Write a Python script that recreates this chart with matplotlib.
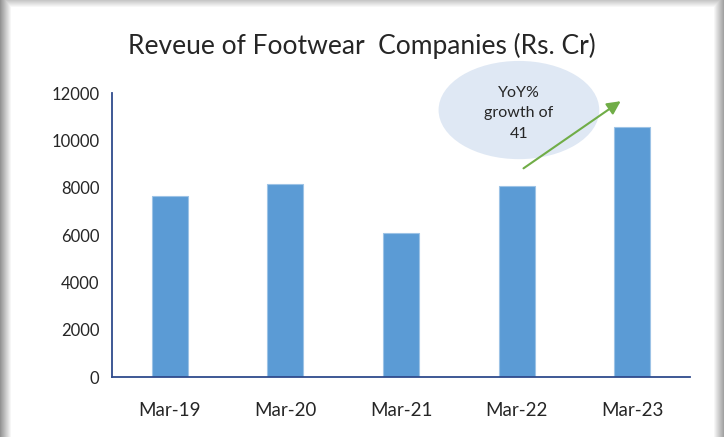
import numpy as np
import matplotlib.pyplot as plt
from matplotlib.patches import Ellipse

plt.rcParams['font.family'] = ['Lato', 'DejaVu Sans']

# data
categories = ["Mar-19", "Mar-20", "Mar-21", "Mar-22", "Mar-23"]
revenue = [7650, 8150, 6100, 8050, 10560]
yticks = [0, 2000, 4000, 6000, 8000, 10000, 12000]
title = "Reveue of Footwear  Companies (Rs. Cr)"
note = "YoY%\ngrowth of\n41"

W, H = 724, 437
fig = plt.figure(figsize=(W / 100, H / 100), dpi=100)

# card with soft shadow on the edges
bg = fig.add_axes([0, 0, 1, 1])
img = np.ones((H, W))
xs = np.arange(W)
ys = np.arange(H)
left = np.clip((11 - xs) / 11, 0, 1) * 0.42
right = np.clip((xs - 713) / 11, 0, 1) * 0.40
top = np.clip((7 - ys) / 7, 0, 1) * 0.22
shade = np.maximum(left[None, :], right[None, :])
shade = np.maximum(shade, top[:, None])
img = img - shade
bg.imshow(img, cmap="gray", vmin=0, vmax=1, aspect="auto", extent=[0, 1, 0, 1])
bg.set_xlim(0, 1)
bg.set_ylim(0, 1)
bg.axis("off")

ax = fig.add_axes([112 / W, 1 - 377 / H, 578 / W, 284 / H])
ax.patch.set_alpha(0)
x = np.arange(len(categories))
ax.bar(x, revenue, width=0.31, color="#5B9BD5", edgecolor="#9DC3E6", linewidth=0.8, zorder=2)

ax.set_xlim(-0.5, len(categories) - 0.5)
ax.set_ylim(0, 12000)
ax.set_yticks(yticks)
ax.set_yticklabels([str(v) for v in yticks], fontsize=12, color="#262626")
ax.set_xticks(x)
ax.set_xticklabels(categories, fontsize=13.5, color="#262626")
ax.tick_params(axis="y", length=0, pad=9)
ax.tick_params(axis="x", length=0, pad=18)

for s in ["top", "right"]:
    ax.spines[s].set_visible(False)
for s in ["left", "bottom"]:
    ax.spines[s].set_color("#2F4B8C")
    ax.spines[s].set_linewidth(1.3)

fig.text(0.5, 1 - 46 / H, title, ha="center", va="center", fontsize=19, color="#262626")

# callout bubble + arrow
ell = Ellipse((3.02, 11280), 1.39, 4150, facecolor="#DFE8F4", edgecolor="none",
              clip_on=False, zorder=1)
ax.add_patch(ell)
ax.text(3.02, 11150, note, ha="center", va="center", fontsize=11.5,
        color="#262626", linespacing=1.6, zorder=3)
ax.annotate("", xy=(3.92, 11720), xytext=(3.04, 8750),
            arrowprops=dict(arrowstyle="-|>,head_length=0.8,head_width=0.4",
                            color="#70AD47", lw=1.5),
            annotation_clip=False, zorder=3)

fig.savefig("out.png", dpi=100)
